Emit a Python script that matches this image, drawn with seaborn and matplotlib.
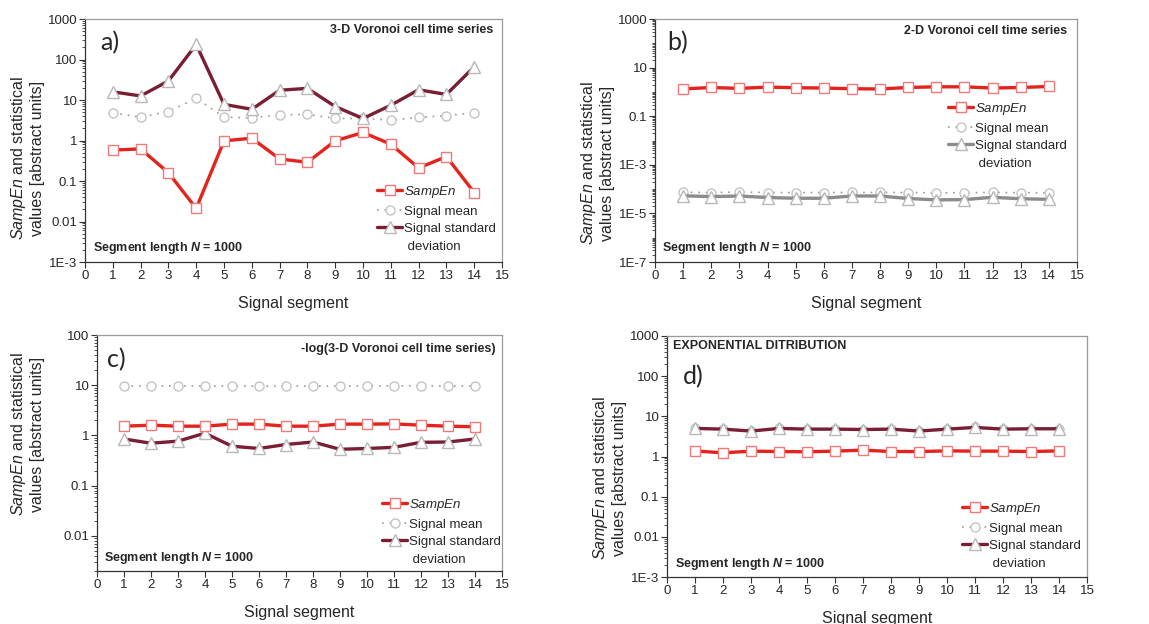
import matplotlib
matplotlib.use('Agg')
import matplotlib.pyplot as plt
from matplotlib.lines import Line2D
from matplotlib.ticker import FixedLocator, FixedFormatter, LogLocator, NullFormatter
import seaborn as sns

# values, x = signal segment 1..14
segments = list(range(1, 15))

# a) 3-D Voronoi cell time series
a_sampen = [0.58, 0.62, 0.16, 0.021, 0.98, 1.14, 0.35, 0.29, 0.98, 1.58, 0.81, 0.21, 0.40, 0.052]
a_mean = [4.8, 3.8, 5.2, 11.0, 3.8, 3.6, 4.3, 4.4, 3.5, 3.5, 3.2, 3.7, 4.1, 4.8]
a_std = [15.9, 12.6, 29.5, 235, 7.8, 5.9, 17.4, 19.4, 6.9, 3.5, 7.4, 17.9, 13.7, 66]

# b) 2-D Voronoi cell time series
b_sampen = [1.32, 1.52, 1.39, 1.58, 1.49, 1.44, 1.35, 1.32, 1.52, 1.62, 1.62, 1.44, 1.52, 1.67]
b_mean = [7.4e-5, 7.2e-5, 7.6e-5, 7.2e-5, 7.2e-5, 7.2e-5, 7.3e-5, 7.3e-5, 7.2e-5, 7.0e-5, 7.1e-5, 7.3e-5, 7.1e-5, 7.1e-5]
b_std = [5.3e-5, 4.9e-5, 5.2e-5, 4.5e-5, 4.2e-5, 4.2e-5, 5.2e-5, 5.2e-5, 4.1e-5, 3.6e-5, 3.7e-5, 4.6e-5, 4.0e-5, 3.8e-5]

# c) -log(3-D Voronoi cell time series)
c_sampen = [1.53, 1.60, 1.53, 1.53, 1.68, 1.68, 1.53, 1.53, 1.68, 1.68, 1.70, 1.60, 1.53, 1.49]
c_mean = [9.6, 9.7, 9.6, 9.7, 9.6, 9.6, 9.6, 9.6, 9.6, 9.7, 9.7, 9.8, 9.6, 9.7]
c_std = [0.85, 0.70, 0.77, 1.11, 0.61, 0.55, 0.66, 0.74, 0.53, 0.55, 0.58, 0.73, 0.74, 0.85]

# d) exponential distribution, mean equals std so the circles hide under the triangles
d_sampen = [1.38, 1.23, 1.36, 1.33, 1.31, 1.36, 1.44, 1.33, 1.33, 1.38, 1.36, 1.36, 1.33, 1.38]
d_mean = [5.0, 4.8, 4.3, 5.0, 4.8, 4.8, 4.7, 4.8, 4.3, 4.8, 5.3, 4.8, 4.9, 4.9]
d_std = [5.0, 4.8, 4.3, 5.0, 4.8, 4.8, 4.7, 4.8, 4.3, 4.8, 5.3, 4.8, 4.9, 4.9]

ticks_a = [1e-3, 1e-2, 1e-1, 1, 10, 100, 1000]
labels_a = ['1E-3', '0.01', '0.1', '1', '10', '100', '1000']
ticks_b = [1e-7, 1e-5, 1e-3, 1e-1, 10, 1000]
labels_b = ['1E-7', '1E-5', '1E-3', '0.1', '10', '1000']
ticks_c = [1e-2, 1e-1, 1, 10, 100]
labels_c = ['0.01', '0.1', '1', '10', '100']

sns.set_style('ticks')
plt.rcParams['font.family'] = ['Liberation Sans', 'DejaVu Sans']
plt.rcParams['mathtext.fontset'] = 'custom'
plt.rcParams['mathtext.rm'] = 'Liberation Sans'
plt.rcParams['mathtext.it'] = 'Liberation Sans:italic'
plt.rcParams['mathtext.bf'] = 'Liberation Sans:bold'
plt.rcParams['mathtext.bfit'] = 'Liberation Sans:bold:italic'

W, H = 1149, 624
RED = '#e3231c'
RED_EDGE = '#f07a78'
MAROON = '#7a1e34'
GREY_STD = '#8c8c8c'
CIRCLE = '#c4c4c4'


def px(x, y):
    return x / W, 1 - y / H


fig = plt.figure(figsize=(W / 100, H / 100), dpi=100)


def draw_panel(box, sampen, mean, std, std_color, ylim, ticks, labels,
               title, title_xy, title_ha, letter, letter_xy, note_xy,
               leg_xy, ylab_xy):
    l, t, r, b = box
    ax = fig.add_axes([l / W, 1 - b / H, (r - l) / W, (b - t) / H])

    # mean first so it sits underneath the other two series
    sns.lineplot(x=segments, y=mean, ax=ax, color='#9a9a9a', lw=1.2,
                 linestyle=(0, (1, 3.5)), marker='o', markersize=6.5,
                 markerfacecolor='white', markeredgecolor=CIRCLE,
                 markeredgewidth=1.0, label='Signal mean', zorder=2)
    sns.lineplot(x=segments, y=std, ax=ax, color=std_color, lw=2.4,
                 marker='^', markersize=9, markerfacecolor='white',
                 markeredgecolor='#b8b8b8', markeredgewidth=1.0,
                 label='Signal standard', zorder=3)
    sns.lineplot(x=segments, y=sampen, ax=ax, color=RED, lw=2.4,
                 marker='s', markersize=7, markerfacecolor='white',
                 markeredgecolor=RED_EDGE, markeredgewidth=1.0,
                 label='$\\mathit{SampEn}$', zorder=4)

    ax.set_yscale('log')
    ax.set_ylim(*ylim)
    ax.set_xlim(0, 15)
    ax.set_xticks(range(0, 16))
    ax.yaxis.set_major_locator(FixedLocator(ticks))
    ax.yaxis.set_major_formatter(FixedFormatter(labels))
    ax.yaxis.set_minor_locator(LogLocator(base=10, subs=range(1, 10), numticks=40))
    ax.yaxis.set_minor_formatter(NullFormatter())
    ax.tick_params(axis='both', which='major', labelsize=9.5, length=4,
                   width=0.8, color='#333333', pad=1.5)
    ax.tick_params(axis='y', which='minor', length=2, width=0.6, color='#333333')
    ax.set_xlabel('Signal segment', fontsize=11.5, labelpad=10)
    ax.set_ylabel('')
    for side in ['left', 'bottom']:
        ax.spines[side].set_color('#333333')
        ax.spines[side].set_linewidth(0.9)
    for side in ['top', 'right']:
        ax.spines[side].set_visible(True)
        ax.spines[side].set_color('#9a9a9a')
        ax.spines[side].set_linewidth(0.9)

    # legend: SampEn, mean, std, then the second line of the std label
    h, lab = ax.get_legend_handles_labels()
    order = [2, 0, 1]
    handles = [h[i] for i in order] + [Line2D([], [], color='none')]
    texts = [lab[i] for i in order] + [' deviation']
    ax.legend(handles, texts, loc='upper left',
              bbox_to_anchor=px(*leg_xy), bbox_transform=fig.transFigure,
              frameon=False, fontsize=9.5, handlelength=1.9, handletextpad=0.15,
              labelspacing=0.4, borderpad=0, borderaxespad=0, numpoints=1)

    fig.text(*px(*title_xy), title, ha=title_ha, va='center',
             fontsize=9, fontweight='bold')
    fig.text(*px(*letter_xy), letter, ha='left', va='center',
             fontsize=18, family=['Lato', 'DejaVu Sans'])
    fig.text(*px(*note_xy), 'Segment length $\\mathbfit{N}$ = 1000',
             ha='left', va='center', fontsize=9, fontweight='bold')
    fig.text(*px(*ylab_xy), '$\\mathit{SampEn}$ and statistical\nvalues [abstract units]',
             ha='center', va='center', rotation=90, fontsize=11.5,
             multialignment='center', linespacing=1.15)
    return ax


draw_panel((85, 19, 502, 262), a_sampen, a_mean, a_std, MAROON,
           (1e-3, 1000), ticks_a, labels_a,
           '3-D Voronoi cell time series', (493, 30), 'right',
           'a)', (100, 43), (93, 248), (377, 184), (27, 158))

draw_panel((655, 19, 1077, 262), b_sampen, b_mean, b_std, GREY_STD,
           (1e-7, 1000), ticks_b, labels_b,
           '2-D Voronoi cell time series', (1067, 31), 'right',
           'b)', (667, 43), (662, 248), (948, 101), (597, 163))

draw_panel((97, 335, 502, 571), c_sampen, c_mean, c_std, MAROON,
           (2e-3, 100), ticks_c, labels_c,
           '-log(3-D Voronoi cell time series)', (496, 349), 'right',
           'c)', (107, 360), (104, 558), (382, 497), (27, 434))

draw_panel((667, 336, 1087, 577), d_sampen, d_mean, d_std, MAROON,
           (1e-3, 1000), ticks_a, labels_a,
           'EXPONENTIAL DITRIBUTION', (673, 346), 'left',
           'd)', (683, 377), (675, 564), (962, 501), (609, 478))

fig.savefig('out.png', dpi=100)
